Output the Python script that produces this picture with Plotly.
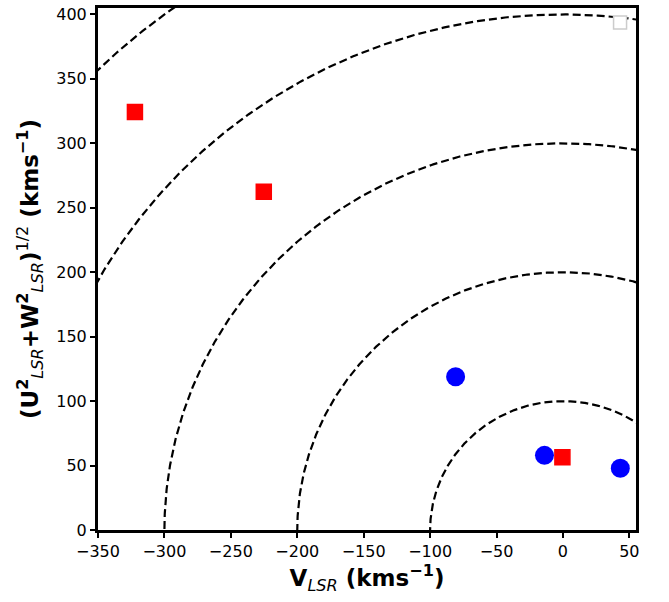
import numpy as np
import plotly.graph_objects as go

# Toomre diagram: V_LSR against (U^2 + W^2)^(1/2)
thin_v = [-80.8, -13.9, 43.2]
thin_uw = [118.9, 57.9, 47.9]

thick_v = [-322.2, -225.2, -0.4]
thick_uw = [324.3, 262.5, 56.4]

open_v = [43.0]
open_uw = [393.8]

# constant total space velocity
radii = [100, 200, 300, 400, 500]

x_ticks = [-350, -300, -250, -200, -150, -100, -50, 0, 50]
y_ticks = [0, 50, 100, 150, 200, 250, 300, 350, 400]

fig = go.Figure()

theta = np.linspace(0, np.pi, 721)
for r in radii:
    fig.add_trace(go.Scatter(
        x=r * np.cos(theta), y=r * np.sin(theta), mode="lines",
        line=dict(color="black", width=2.2, dash="8px,4px"),
        hoverinfo="skip", showlegend=False))

fig.add_trace(go.Scatter(
    x=thin_v, y=thin_uw, mode="markers", showlegend=False,
    marker=dict(symbol="circle", size=19, color="blue", line=dict(width=0))))
fig.add_trace(go.Scatter(
    x=thick_v, y=thick_uw, mode="markers", showlegend=False,
    marker=dict(symbol="square", size=15, color="red",
                line=dict(width=1.5, color="red"))))
fig.add_trace(go.Scatter(
    x=open_v, y=open_uw, mode="markers", showlegend=False,
    marker=dict(symbol="square", size=13, color="white",
                line=dict(width=1.5, color="#cccccc"))))

axis_common = dict(
    showgrid=False, zeroline=False, showline=True, mirror=True,
    linecolor="black", linewidth=3, ticks="outside", ticklen=5,
    tickwidth=1.5, tickcolor="black",
    tickfont=dict(family="DejaVu Sans", size=16, color="black"),
)

fig.update_xaxes(
    range=[-350, 55], tickvals=x_ticks,
    title=dict(text="<b>V</b><sub><i>LSR</i></sub><b> (kms<sup>−1</sup>)</b>",
               font=dict(family="DejaVu Sans", size=23, color="black"),
               standoff=10),
    **axis_common)
fig.update_yaxes(
    range=[0, 405], tickvals=y_ticks,
    title=dict(text="<b>(U</b><sup><b>2</b></sup><sub><i>LSR</i></sub><b>+W</b>"
                    "<sup><b>2</b></sup><sub><i>LSR</i></sub><b>)</b>"
                    "<sup>1/2</sup><b> (kms<sup>−1</sup>)</b>",
               font=dict(family="DejaVu Sans", size=23, color="black"),
               standoff=12),
    **axis_common)

fig.update_layout(
    width=669, height=602,
    margin=dict(l=98, r=33, t=5, b=72),
    plot_bgcolor="white", paper_bgcolor="white",
)

fig.write_html("out.html")
